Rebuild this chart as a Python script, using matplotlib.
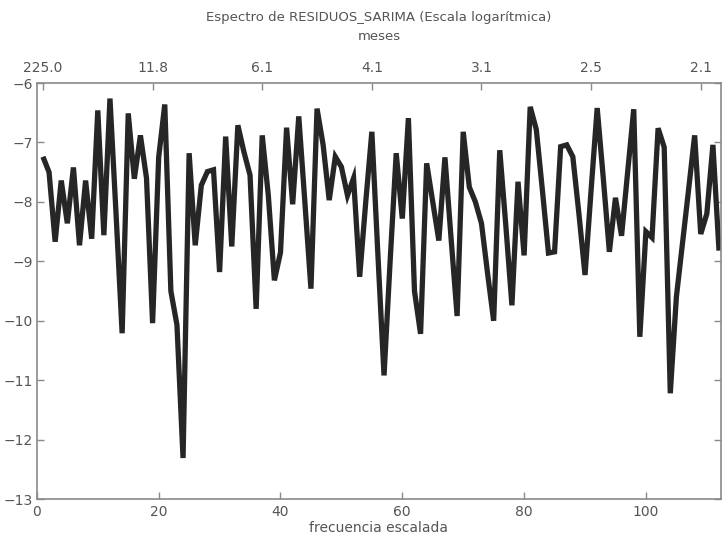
import matplotlib
matplotlib.use("Agg")
import matplotlib.pyplot as plt

# log-spectrum of the SARIMA residuals (freq 1..112)
frecuencia = list(range(1, 113))
log_espectro = [
    -7.24, -7.50, -8.67, -7.64, -8.36, -7.42, -8.73, -7.64, -8.62, -6.46,
    -8.56, -6.26, -8.20, -10.21, -6.51, -7.61, -6.88, -7.60, -10.04, -7.25,
    -6.36, -9.50, -10.07, -12.31, -7.18, -8.73, -7.72, -7.49, -7.46, -9.18,
    -6.90, -8.75, -6.71, -7.16, -7.55, -9.80, -6.88, -7.89, -9.32, -8.85,
    -6.75, -8.04, -6.56, -8.00, -9.46, -6.43, -7.04, -7.97, -7.24, -7.41,
    -7.89, -7.60, -9.26, -8.00, -6.82, -8.90, -10.92, -9.00, -7.18, -8.28,
    -6.59, -9.50, -10.22, -7.35, -8.00, -8.65, -7.25, -8.60, -9.92, -6.82,
    -7.75, -8.00, -8.36, -9.20, -10.00, -7.13, -8.40, -9.74, -7.66, -8.90,
    -6.40, -6.78, -7.80, -8.86, -8.84, -7.07, -7.04, -7.24, -8.20, -9.23,
    -7.80, -6.42, -7.60, -8.84, -7.93, -8.57, -7.50, -6.44, -10.27, -8.50,
    -8.60, -6.76, -7.08, -11.22, -9.60, -8.70, -7.80, -6.88, -8.54, -8.20,
    -7.04, -8.82,
]

x_ticks = [0, 20, 40, 60, 80, 100]
y_ticks = [-13, -12, -11, -10, -9, -8, -7, -6]
meses_ticks = [1, 19, 37, 55, 73, 91, 109]
meses_labels = ["225.0", "11.8", "6.1", "4.1", "3.1", "2.5", "2.1"]

plt.rcParams["font.family"] = ["Liberation Sans Narrow", "DejaVu Sans"]
texto = "#555555"
eje = "#8a8a8a"

fig = plt.figure(figsize=(7.23, 5.43), dpi=100)
ax = fig.add_axes([0.051, 0.081, 0.946, 0.766])

ax.plot(frecuencia, log_espectro, color="#262626", lw=3.8,
        solid_joinstyle="miter", solid_capstyle="butt")

ax.set_xlim(0, 112.3)
ax.set_ylim(-13, -6)
ax.set_xticks(x_ticks)
ax.set_yticks(y_ticks)
ax.tick_params(axis="both", direction="in", length=5, width=1, color=eje,
               labelcolor=texto, labelsize=10, pad=4)
ax.tick_params(axis="y", right=True, pad=3)
for s in ax.spines.values():
    s.set_color(eje)
    s.set_linewidth(1.2)

ax.set_xlabel("frecuencia escalada", color=texto, fontsize=10, labelpad=2)

top = ax.twiny()
top.set_xlim(ax.get_xlim())
top.set_xticks(meses_ticks)
top.set_xticklabels(meses_labels)
top.tick_params(axis="x", direction="in", length=5, width=1, color=eje,
                labelcolor=texto, labelsize=10, pad=6)
for s in top.spines.values():
    s.set_visible(False)

fig.text(0.524, 1 - 17 / 543, "Espectro de RESIDUOS_SARIMA (Escala logarítmica)",
         ha="center", va="center", color=texto, fontsize=9.5)
fig.text(0.524, 1 - 37 / 543, "meses", ha="center", va="center",
         color=texto, fontsize=9.5)

fig.savefig("out.png", dpi=100)
